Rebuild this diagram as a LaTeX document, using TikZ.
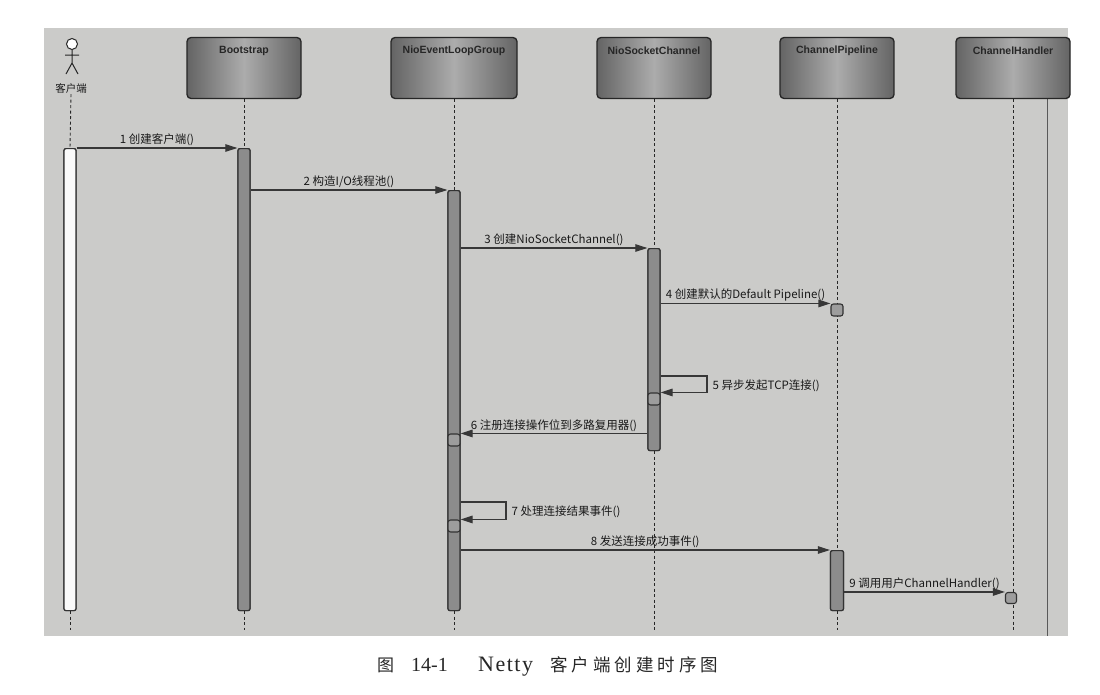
\documentclass[tikz,border=0pt]{standalone}
\usepackage{fontspec}
\setmainfont{Liberation Serif}
\newfontfamily\cjk{Noto Sans CJK SC}
\newfontfamily\hdfont{Liberation Sans}
\usetikzlibrary{arrows.meta,calc}
\definecolor{bgpaper}{RGB}{203,203,201}
\definecolor{boxdark}{RGB}{100,100,100}
\definecolor{boxlight}{RGB}{172,172,172}
\definecolor{barfill}{RGB}{140,140,140}
\definecolor{linegray}{RGB}{55,55,55}
\begin{document}
\begin{tikzpicture}[x=1pt,y=-1pt,
  hbox/.style={draw=black!85, line width=1.3pt, rounded corners=4pt, minimum width=114pt, minimum height=61pt, left color=boxdark, right color=boxdark, middle color=boxlight, inner sep=0pt},
  htext/.style={font=\hdfont\bfseries\fontsize{10.5}{12}\selectfont, text=black!85, inner sep=0pt},
  life/.style={draw=black!85, line width=0.9pt, dash pattern=on 3pt off 2.5pt},
  actbar/.style={draw=black!80, line width=1.2pt, fill=barfill, rounded corners=2pt, minimum width=12pt, inner sep=0pt, anchor=north},
  clibar/.style={actbar, fill=white!96!gray},
  sq/.style={draw=black!80, line width=1.1pt, fill=barfill!85, rounded corners=2.5pt, minimum size=12pt, inner sep=0pt},
  msg/.style={draw=linegray, line width=1.1pt, -{Triangle[length=12pt,width=7.5pt]}},
  mlabel/.style={font=\cjk\fontsize{11.5}{13}\selectfont, text=black!90, inner sep=1.5pt},
  captxt/.style={inner sep=0pt, anchor=base west, text=black!85},
]
\useasboundingbox (0,0) rectangle (1100,694);
% paper background
\fill[bgpaper] (44,28) rectangle (1068,636);
\draw[gray!70!black, line width=0.8pt] (1047,86) -- (1047,636);

% actor
\draw[black!85, line width=1pt, fill=white] (72,44) circle (5.5pt);
\draw[black!85, line width=1pt] (72,49.5) -- (72,63) (65,55) -- (79,55) (72,63) -- (66,74) (72,63) -- (78,74);
\node[font=\cjk\fontsize{10.5}{12}\selectfont, text=black!90, inner sep=1pt] (cliT) at (71,88) {客户端};

% header boxes
\node[hbox] (boot) at (244,68) {};
\node[hbox, minimum width=126pt] (nelg) at (454,68) {};
\node[hbox] (nsc) at (654,68) {};
\node[hbox] (pipe) at (837,68) {};
\node[hbox] (hand) at (1013,68) {};
\node[htext] (bootT) at ($(boot.north)+(0,14)$) {Bootstrap};
\node[htext] (nelgT) at ($(nelg.north)+(0,14)$) {NioEventLoopGroup};
\node[htext] (nscT) at ($(nsc.north)+(0,14)$) {NioSocketChannel};
\node[htext] (pipeT) at ($(pipe.north)+(0,14)$) {ChannelPipeline};
\node[htext] (handT) at ($(hand.north)+(0,14)$) {ChannelHandler};

% end points of lifelines
\coordinate (cliE) at (70,630);
\coordinate (bootE) at (244,630);
\coordinate (nelgE) at (454,630);
\coordinate (nscE) at (654,630);
\coordinate (pipeE) at (837,630);
\coordinate (handE) at (1013,630);

% activation bars
\node[clibar, minimum height=462pt] (cliA) at (70,148) {};
\node[actbar, minimum height=462pt] (bootA) at (244,148) {};
\node[actbar, minimum height=420pt] (nelgA) at (454,190) {};
\node[actbar, minimum height=202pt] (nscA) at (654,248) {};
\node[actbar, minimum width=13pt, minimum height=60pt] (pipeA) at (837,550) {};

% lifelines
\draw[life] (cliT.south) -- (cliA.north);
\draw[life] (cliA.south) -- (cliE);
\draw[life] (boot.south) -- (bootA.north);
\draw[life] (bootA.south) -- (bootE);
\draw[life] (nelg.south) -- (nelgA.north);
\draw[life] (nelgA.south) -- (nelgE);
\draw[life] (nsc.south) -- (nscA.north);
\draw[life] (nscA.south) -- (nscE);
\draw[life] (pipe.south) -- (pipeA.north);
\draw[life] (pipeA.south) -- (pipeE);
\draw[life] (hand.south) -- (handE);

% redraw bars over lifelines
\node[clibar, minimum height=462pt] at (70,148) {};
\node[actbar, minimum height=462pt] at (244,148) {};
\node[actbar, minimum height=420pt] at (454,190) {};
\node[actbar, minimum height=202pt] at (654,248) {};
\node[actbar, minimum width=13pt, minimum height=60pt] at (837,550) {};

% small execution squares
\node[sq] (pipeS) at (837,310) {};
\node[sq] (sq5) at (654,399) {};
\node[sq] (sq6) at (454,440) {};
\node[sq] (sq7) at (454,526) {};
\node[sq, minimum size=11pt] (handS) at (1011,598) {};

% messages
\draw[msg] (cliA.north east) -- node[mlabel, above] (m1) {1 创建客户端()} (bootA.north west);
\draw[msg] (bootA.east |- nelgA.north) -- node[mlabel, above] (m2) {2 构造I/O线程池()} (nelgA.north west);
\draw[msg] (nelgA.east |- nscA.north) -- node[mlabel, above] (m3) {3 创建NioSocketChannel()} (nscA.north west);
\draw[msg] (nscA.east |- pipeS.north) -- node[mlabel, above] (m4) {4 创建默认的Default Pipeline()} (pipeS.north west);
\coordinate (c5) at (707,376);
\draw[msg] (nscA.east |- c5) -- (c5) |- (sq5.north east);
\node[mlabel, anchor=west] (m5) at (711,386) {5 异步发起TCP连接()};
\draw[msg] (nscA.west |- sq6.north east) -- node[mlabel, above] (m6) {6 注册连接操作位到多路复用器()} (sq6.north east);
\coordinate (c7) at (506,502);
\draw[msg] (nelgA.east |- c7) -- (c7) |- (sq7.north east);
\node[mlabel, anchor=west] (m7) at (510,512) {7 处理连接结果事件()};
\draw[msg] (nelgA.east |- pipeA.north) -- node[mlabel, above] (m8) {8 发送连接成功事件()} (pipeA.north west);
\draw[msg] (pipeA.east |- handS.north west) -- node[mlabel, above] (m9) {9 调用用户ChannelHandler()} (handS.north west);

% caption
\node[captxt, font=\cjk\fontsize{17}{20}\selectfont] (capA) at (377,671) {图};
\node[captxt, font=\fontsize{20}{22}\selectfont] (capB) at (411,671) {14-1};
\node[captxt, font=\fontsize{22}{24}\selectfont] (capC) at (478,671) {N\kern1.5pt e\kern1.5pt t\kern1.5pt t\kern1.5pt y};
\node[captxt, font=\cjk\fontsize{17.5}{20}\selectfont] (capD) at (550,671) {客\kern4pt 户\kern4pt 端\kern4pt 创\kern4pt 建\kern4pt 时\kern4pt 序\kern4pt 图};
\end{tikzpicture}
\end{document}
